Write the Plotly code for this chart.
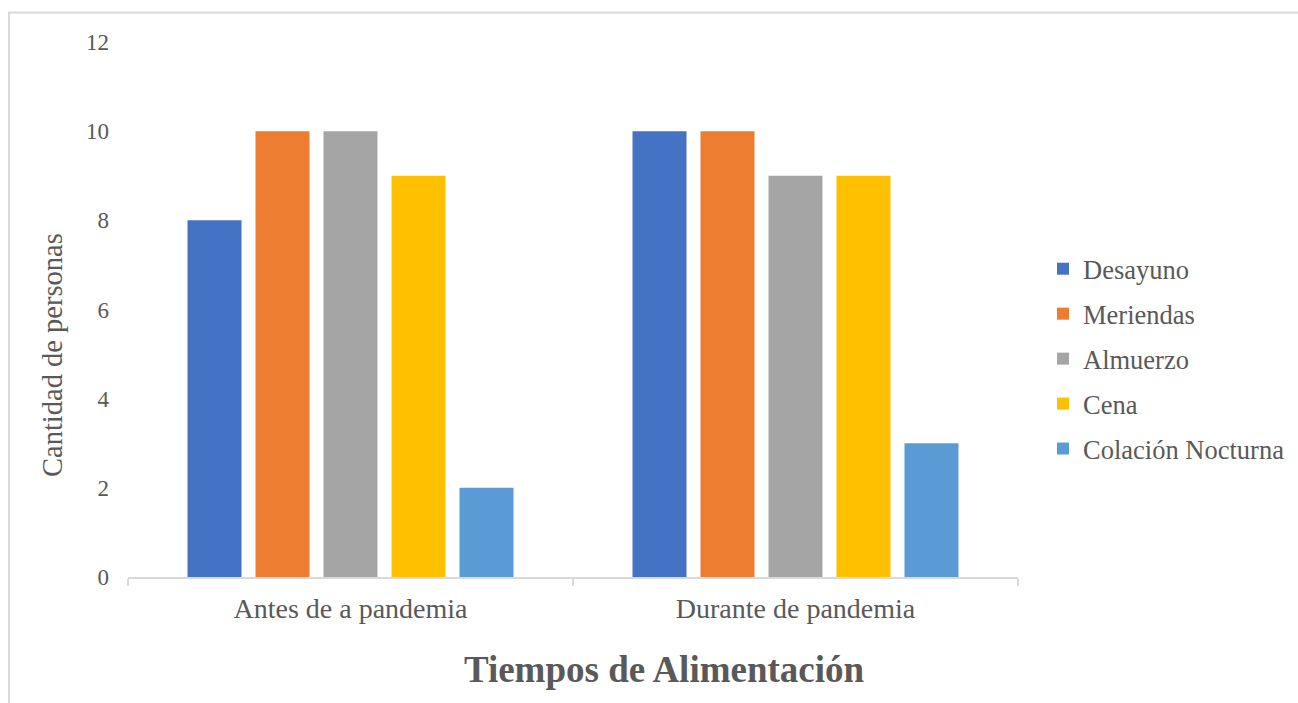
import plotly.graph_objects as go

# Meal times reported before and during the pandemic
periodos = ["Antes de a pandemia", "Durante de pandemia"]
desayuno = [8, 10]
meriendas = [10, 10]
almuerzo = [10, 9]
cena = [9, 9]
colacion = [2, 3]

series = [
    ("Desayuno", desayuno, "#4472C4"),
    ("Meriendas", meriendas, "#ED7D31"),
    ("Almuerzo", almuerzo, "#A5A5A5"),
    ("Cena", cena, "#FFC000"),
    ("Colación Nocturna", colacion, "#5B9BD5"),
]

W, H = 1298, 703
L, R, T, B = 128, 280, 42, 126
PW, PH = W - L - R, H - T - B

def px_x(x):
    return (x - L) / PW

def px_y(y):
    return (H - B - y) / PH

FONT = "Liberation Serif"
GRAY = "#595959"
LINE = "#D9D9D9"

fig = go.Figure()
for i, (name, vals, color) in enumerate(series):
    fig.add_trace(go.Bar(
        x=periodos, y=vals, name=name, marker_color=color,
        marker_line_width=0, legendgroup=f"g{i}",
    ))

fig.update_layout(
    width=W, height=H,
    margin=dict(l=L, r=R, t=T, b=B),
    paper_bgcolor="white", plot_bgcolor="white",
    barmode="group", bargap=0.236, bargroupgap=0.206,
    font=dict(family=FONT, color=GRAY),
    title=dict(
        text="<b>Tiempos de Alimentación</b>",
        font=dict(size=37, color=GRAY, family=FONT),
        x=664 / W, xanchor="center", xref="container",
        y=1 - 669 / H, yanchor="middle", yref="container",
    ),
    legend=dict(
        xref="container", yref="container",
        x=1043 / W, xanchor="left", y=1 - 359 / H, yanchor="middle",
        font=dict(size=26.5, color=GRAY, family=FONT),
        tracegroupgap=7.5, bgcolor="rgba(0,0,0,0)",
    ),
    showlegend=True,
)

fig.update_xaxes(
    showline=True, linecolor=LINE, linewidth=1.5,
    ticks="outside", tickson="boundaries", ticklen=7, tickcolor=LINE, tickwidth=1.5,
    ticklabelstandoff=6,
    tickfont=dict(size=28, color=GRAY, family=FONT),
    showgrid=False, zeroline=False,
)
fig.update_yaxes(
    range=[0, 12], dtick=2, tick0=0,
    showline=False, showgrid=False, zeroline=False,
    ticks="", ticklabelstandoff=18,
    tickfont=dict(size=23, color=GRAY, family=FONT),
)

fig.add_annotation(
    text="Cantidad de personas", textangle=-90,
    xref="paper", yref="paper", x=px_x(52), y=px_y(355),
    xanchor="center", yanchor="middle", showarrow=False,
    font=dict(size=28.5, color=GRAY, family=FONT),
)

# Chart frame: left and top edges
fig.add_shape(
    type="line", xref="paper", yref="paper",
    x0=px_x(9), y0=px_y(12.5), x1=px_x(9), y1=px_y(H + 10),
    line=dict(color=LINE, width=2),
)
fig.add_shape(
    type="line", xref="paper", yref="paper",
    x0=px_x(8), y0=px_y(12.5), x1=px_x(W + 10), y1=px_y(12.5),
    line=dict(color=LINE, width=2),
)

fig.write_html("out.html")
